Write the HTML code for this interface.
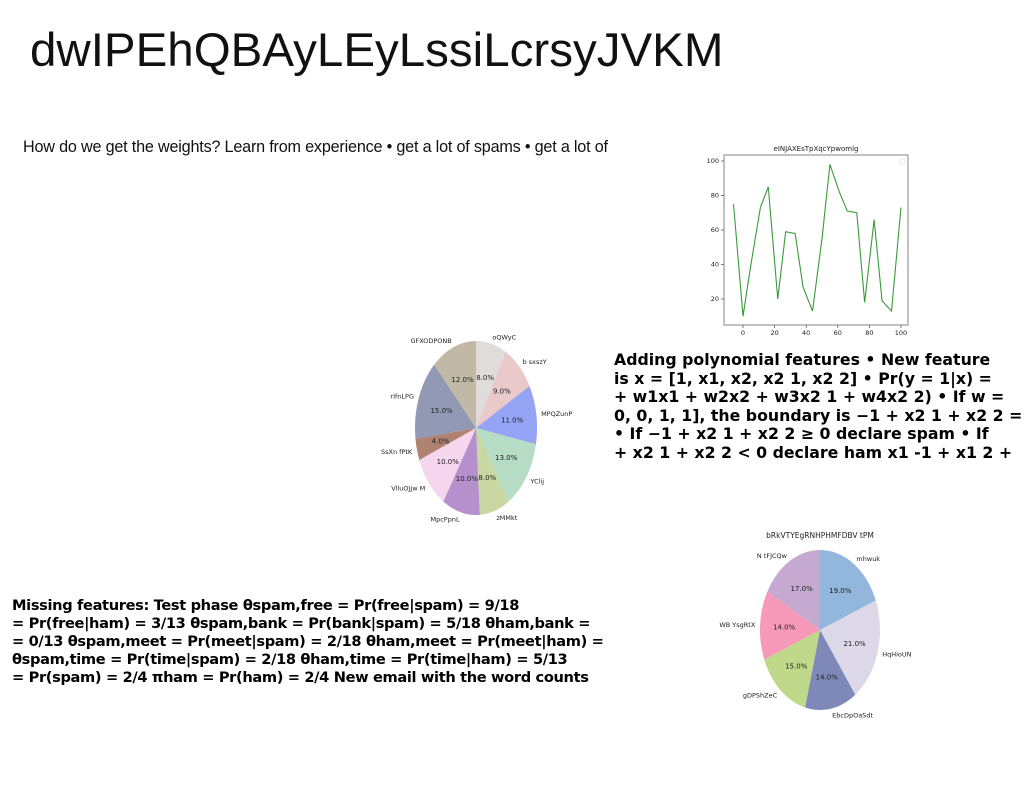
<!DOCTYPE html>
<html><head><meta charset="utf-8"><style>
body{margin:0;width:1024px;height:788px;background:#fff;overflow:hidden;position:relative;font-family:"Liberation Sans",sans-serif}
.t{position:absolute;white-space:nowrap}
#title{left:30px;top:23px;font-size:47.5px;color:#111}
#sub{left:23px;top:138px;font-size:16.2px;color:#111;letter-spacing:-0.2px}
#right{left:614px;top:351px;font-family:"DejaVu Sans",sans-serif;font-weight:bold;font-size:15.75px;line-height:18.5px;color:#000}
#left{left:12px;top:597px;font-family:"DejaVu Sans",sans-serif;font-weight:bold;font-size:14.6px;line-height:18px;color:#000;letter-spacing:-0.35px}
svg{position:absolute;left:0;top:0}
</style></head><body>
<div class="t" id="title">dwIPEhQBAyLEyLssiLcrsyJVKM</div>
<div class="t" id="sub">How do we get the weights? Learn from experience • get a lot of spams • get a lot of</div>
<div class="t" id="right">Adding polynomial features • New feature<br>is x = [1, x1, x2, x2 1, x2 2] • Pr(y = 1|x) =<br>+ w1x1 + w2x2 + w3x2 1 + w4x2 2) • If w =<br>0, 0, 1, 1], the boundary is −1 + x2 1 + x2 2 =<br>• If −1 + x2 1 + x2 2 ≥ 0 declare spam • If<br>+ x2 1 + x2 2 &lt; 0 declare ham x1 -1 + x1 2 +</div>
<div class="t" id="left">Missing features: Test phase θspam,free = Pr(free|spam) = 9/18<br>= Pr(free|ham) = 3/13 θspam,bank = Pr(bank|spam) = 5/18 θham,bank =<br>= 0/13 θspam,meet = Pr(meet|spam) = 2/18 θham,meet = Pr(meet|ham) =<br>θspam,time = Pr(time|spam) = 2/18 θham,time = Pr(time|ham) = 5/13<br>= Pr(spam) = 2/4 πham = Pr(ham) = 2/4 New email with the word counts</div>
<svg id="chart" width="1024" height="788"></svg>
<script>
const pie1Labels=["oQWyC","b sxszY","MPQZunP","YClij","zMMkt","MpcPpnL","VlluOJjw M","SsXn fPtK","rIfnLPG","GFXODPONB"];
const pie1Values=[8,9,11,13,8,10,10,4,15,12];
const pie1Colors=["#e0dcdc","#e9c9c9","#96a4f5","#b6dcc6","#c9d8a2","#b690cc","#f5d6ee","#b08272","#9199b5","#c1b9a5"];
const pie2Labels=["mhwuk","HqHioUN","EbcDpOaSdt","gDPShZeC","WB YsgRtX","N tFJCQw"];
const pie2Values=[19,21,14,15,14,17];
const pie2Colors=["#93b6dc","#dcd8e8","#7f89b9","#c0d88a","#f799b9","#c5a9d1"];
const lineX=[-6,0,5,11,16,22,27,33,38,44,50,55,61,66,72,77,83,88,94,100];
const lineY=[75,10,40,73,85,20,59,58,27,13,55,98,82,71,70,18,66,19,13,73];
const xTicks=[0,20,40,60,80,100];
const yTicks=[20,40,60,80,100];
const NS="http://www.w3.org/2000/svg";
const svg=document.getElementById('chart');
function mk(tag,attrs,parent){const e=document.createElementNS(NS,tag);for(const k in attrs)e.setAttribute(k,attrs[k]);(parent||svg).appendChild(e);return e;}
function txt(x,y,s,size,anchor,parent){const t=mk('text',{x:x,y:y,'font-size':size,'text-anchor':anchor||'middle','font-family':'DejaVu Sans, sans-serif',fill:'#222'},parent);t.textContent=s;return t;}
function pie(name,cx,cy,rx,ry,labels,values,colors,title){
  const g=mk('g',{});
  
  
  const tot=values.reduce((a,b)=>a+b,0);let a=Math.PI/2;
  values.forEach((v,i)=>{
    const a2=a-v/tot*2*Math.PI;
    const x1=cx+rx*Math.cos(a),y1=cy-ry*Math.sin(a),x2=cx+rx*Math.cos(a2),y2=cy-ry*Math.sin(a2);
    const large=(a-a2)>Math.PI?1:0;
    const p=mk('path',{d:`M${cx},${cy}L${x1},${y1}A${rx},${ry} 0 ${large} 1 ${x2},${y2}Z`,fill:colors[i]},g);
    
    
    const m=(a+a2)/2;
    const pl=txt(cx+0.6*rx*Math.cos(m),cy-0.6*ry*Math.sin(m)+2.5,v.toFixed(1)+'%',7,'middle',g);
    
    
    const c=Math.cos(m);
    const ll=txt(cx+1.08*rx*c,cy-1.08*ry*Math.sin(m)+2.5,labels[i],6.5,c>0.05?'start':(c<-0.05?'end':'middle'),g);
    
    
    a=a2;
  });
  if(title){const t=txt(cx,cy-ry-12,title,7.5,'middle',g);}
}
pie('pie-chart-1',476,428,61,87,pie1Labels,pie1Values,pie1Colors,null);
pie('pie-chart-2',820,630,60,80,pie2Labels,pie2Values,pie2Colors,'bRkVTYEgRNHPHMFDBV tPM');
const L=724,R=908,T=155,B=325;
const sx=v=>743+(v-0)*(901-743)/100;
const sy=v=>299-(v-20)*(299-161)/80;
const lg=mk('g',{});


const fr=mk('rect',{x:L,y:T,width:R-L,height:B-T,fill:'none',stroke:'#666','stroke-width':0.8},lg);


xTicks.forEach(v=>{mk('line',{x1:sx(v),x2:sx(v),y1:B,y2:B+3,stroke:'#444','stroke-width':0.7},lg);const t=txt(sx(v),B+10,String(v),6.5,'middle',lg);});
yTicks.forEach(v=>{mk('line',{x1:L-3,x2:L,y1:sy(v),y2:sy(v),stroke:'#444','stroke-width':0.7},lg);const t=txt(L-5,sy(v)+2,String(v),6.5,'end',lg);});
const pl=mk('polyline',{points:lineX.map((x,i)=>sx(x)+','+sy(lineY[i])).join(' '),fill:'none',stroke:'#3a9a3a','stroke-width':1.1},lg);


const lt=txt((L+R)/2,T-4,'eINJAXEsTpXqcYpwomlg',7,'middle',lg);


const lb=mk('rect',{x:900,y:159,width:5,height:5,fill:'none',stroke:'#ddd','stroke-width':0.6},lg);


</script>
</body></html>
